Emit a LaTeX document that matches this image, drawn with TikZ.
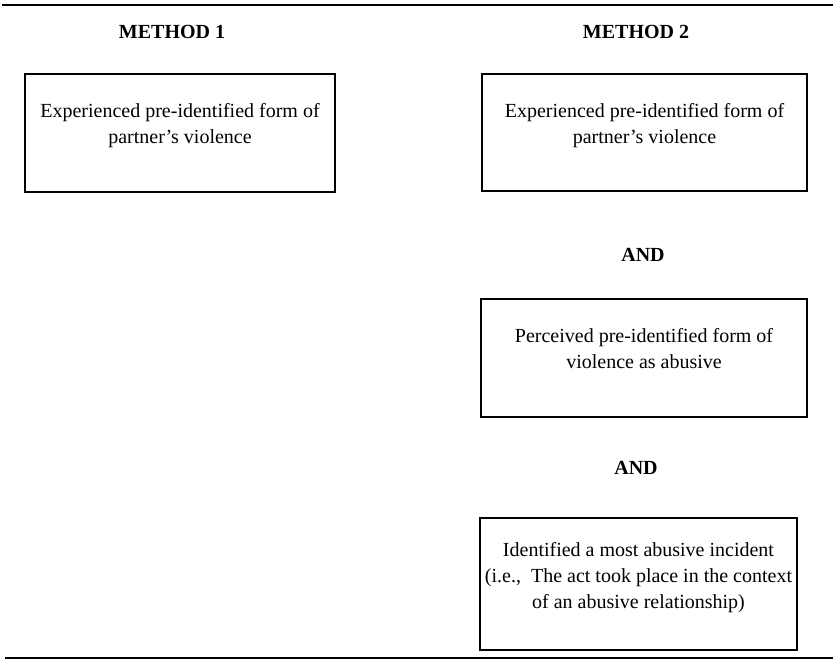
\documentclass[tikz,border=0pt]{standalone}
\usepackage{fontspec}
\setmainfont{Liberation Serif}
\begin{document}
\begin{tikzpicture}[x=1pt,y=-1pt,
  rule/.style={line width=2.2pt},
  thinrule/.style={line width=1.5pt},
  box/.style={draw, line width=1.3pt, rectangle, inner sep=0pt},
  boxtext/.style={anchor=north, align=center, inner sep=0pt, font=\fontsize{20}{26}\selectfont},
  title/.style={font=\fontsize{20}{24}\selectfont\bfseries, inner sep=0pt}]
\useasboundingbox (0,0) rectangle (833,660);
\coordinate (tl) at (2,5);
\coordinate (tr) at (833,5);
\draw[rule] (tl) -- (tr);
\coordinate (bl) at (5,658);
\coordinate (br) at (833,658);
\draw[thinrule] (bl) -- (br);

\node[title] (m1) at (172,32) {METHOD 1};
\node[title] (m2) at (636,32) {METHOD 2};

\node[box, minimum width=310pt, minimum height=118pt] (b1) at (180,133) {};
\node[boxtext] (t1) at ([yshift=-30pt]b1.north) {Experienced pre-identified form of\\partner’s violence};

\node[box, minimum width=325pt, minimum height=117pt] (r1) at (644.5,132.5) {};
\node[boxtext] (s1) at ([yshift=-30pt]r1.north) {Experienced pre-identified form of\\partner’s violence};

\node[title] (and1) at (643,255) {AND};

\node[box, minimum width=326pt, minimum height=118pt] (r2) at (644,358) {};
\node[boxtext] (s2) at ([yshift=-30pt]r2.north) {Perceived pre-identified form of\\violence as abusive};

\node[title] (and2) at (636,468) {AND};

\node[box, minimum width=317pt, minimum height=132pt] (r3) at (638.5,584) {};
\node[boxtext] (s3) at ([yshift=-25pt]r3.north) {Identified a most abusive incident\\(i.e.,\ \ The act took place in the context\\of an abusive relationship)};
\end{tikzpicture}
\end{document}
